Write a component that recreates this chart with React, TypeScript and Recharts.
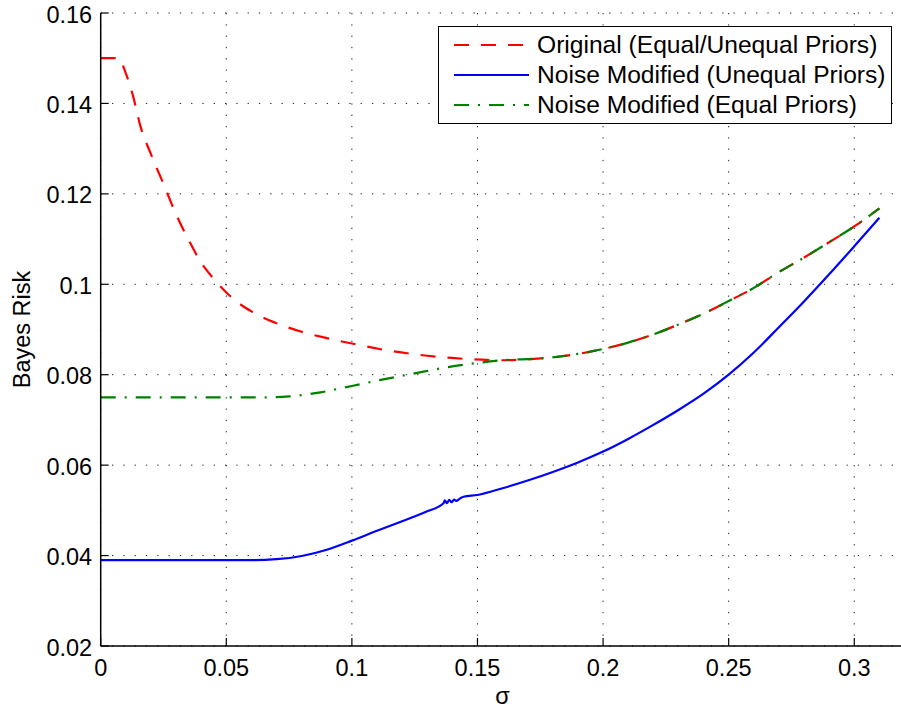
import React from "react";
import { LineChart, Line, XAxis, YAxis, CartesianGrid, Legend, Label } from "recharts";

// sigma / Bayes risk readings
const originalX = [0, 0.0075, 0.0095, 0.013, 0.0157, 0.02, 0.025, 0.03, 0.035, 0.04, 0.045, 0.05, 0.055, 0.06, 0.07, 0.08, 0.09, 0.1, 0.115, 0.13, 0.145, 0.16, 0.175, 0.19, 0.2, 0.21, 0.22, 0.23, 0.24, 0.25, 0.26, 0.27, 0.28, 0.29, 0.3, 0.31];
const originalY = [0.15, 0.15, 0.1474, 0.1414, 0.1352, 0.1288, 0.1222, 0.1155, 0.1098, 0.1048, 0.1012, 0.0982, 0.0958, 0.0940, 0.0914, 0.0895, 0.0881, 0.0869, 0.0853, 0.0842, 0.0835, 0.0832, 0.0836, 0.0846, 0.0857, 0.0871, 0.0889, 0.0911, 0.0935, 0.0963, 0.0992, 0.1027, 0.1059, 0.1093, 0.1128, 0.1168];

const unequalX = [0, 0.06, 0.07, 0.08, 0.09, 0.1, 0.11, 0.12, 0.13, 0.1364, 0.137, 0.1378, 0.1388, 0.1397, 0.1407, 0.1415, 0.143, 0.1444, 0.15, 0.16, 0.17, 0.18, 0.19, 0.2, 0.21, 0.22, 0.23, 0.24, 0.25, 0.26, 0.27, 0.28, 0.29, 0.3, 0.31];
const unequalY = [0.039, 0.039, 0.0392, 0.0399, 0.0413, 0.0433, 0.0455, 0.0476, 0.0498, 0.0515, 0.0522, 0.0516, 0.0523, 0.0518, 0.0524, 0.0521, 0.0526, 0.0530, 0.0534, 0.0549, 0.0566, 0.0585, 0.0606, 0.0630, 0.0658, 0.0689, 0.0722, 0.0758, 0.0800, 0.0849, 0.0905, 0.0962, 0.1022, 0.1084, 0.1147];

const equalX = [0, 0.05, 0.065, 0.075, 0.0875, 0.0965, 0.1, 0.111, 0.125, 0.1375, 0.15, 0.16, 0.175, 0.19, 0.2, 0.21, 0.22, 0.23, 0.24, 0.25, 0.26, 0.27, 0.28, 0.29, 0.3, 0.31];
const equalY = [0.075, 0.075, 0.075, 0.0752, 0.0761, 0.0771, 0.0775, 0.0788, 0.0803, 0.0816, 0.0826, 0.0832, 0.0836, 0.0846, 0.0857, 0.0871, 0.0889, 0.0911, 0.0935, 0.0963, 0.0992, 0.1027, 0.1059, 0.1093, 0.1128, 0.1168];

const xTicks = [0, 0.05, 0.1, 0.15, 0.2, 0.25, 0.3];
const yTicks = [0.02, 0.04, 0.06, 0.08, 0.1, 0.12, 0.14, 0.16];

const FONT = '"Liberation Sans", Arial, Helvetica, sans-serif';

const toPoints = (xs: number[], ys: number[]) => xs.map((x, i) => ({ x, y: ys[i] }));

const series = [
	{ name: "Original (Equal/Unequal Priors)", color: "#ff0000", dash: "15 12", data: toPoints(originalX, originalY) },
	{ name: "Noise Modified (Unequal Priors)", color: "#0000ff", dash: undefined, data: toPoints(unequalX, unequalY) },
	{ name: "Noise Modified (Equal Priors)", color: "#008000", dash: "15 9 2 9", data: toPoints(equalX, equalY) },
];

const BottomTick = (props: any) => {
	const { x, y, payload } = props;
	return (
		<g>
			<line x1={x} x2={x} y1={y} y2={y - 8} stroke="#000" strokeWidth={1.2} />
			<text x={x} y={y + 30} textAnchor="middle" fontSize={23.5} fontFamily={FONT} fill="#000">{String(payload.value)}</text>
		</g>
	);
};

const LeftTick = (props: any) => {
	const { x, y, payload } = props;
	return (
		<g>
			<line x1={x} x2={x + 8} y1={y} y2={y} stroke="#000" strokeWidth={1.2} />
			<text x={x - 8.5} y={y + 9.5} textAnchor="end" fontSize={23.5} fontFamily={FONT} fill="#000">{String(payload.value)}</text>
		</g>
	);
};

const TopTick = (props: any) => {
	const { x, y } = props;
	return <line x1={x} x2={x} y1={y} y2={y + 8} stroke="#000" strokeWidth={1.2} />;
};

const RightTick = (props: any) => {
	const { x, y } = props;
	return <line x1={x} x2={x - 8} y1={y} y2={y} stroke="#000" strokeWidth={1.2} />;
};

const LegendBox = () => (
	<div style={{ width: 452, height: 96, border: "1.3px solid #000", background: "#fff", boxSizing: "content-box", position: "relative", fontFamily: FONT }}>
		{series.map((s, i) => (
			<div key={s.name} style={{ position: "absolute", left: 0, top: 18.3 + i * 30 - 15, height: 30, display: "flex", alignItems: "center" }}>
				<svg width={98} height={30} style={{ display: "block" }}>
					<line x1={15} x2={90} y1={15} y2={15} stroke={s.color} strokeWidth={2.2} strokeDasharray={s.dash} />
				</svg>
				<span style={{ fontSize: 24.6, color: "#000", whiteSpace: "nowrap", lineHeight: "30px" }}>{s.name}</span>
			</div>
		))}
	</div>
);

export default function App() {
	return (
		<div style={{ position: "fixed", left: 0, top: 0, width: 901, height: 709, overflow: "hidden", background: "#fff" }}>
			<LineChart width={920} height={709} margin={{ top: 13, right: 15.5, bottom: 0, left: 0 }}>
				<CartesianGrid stroke="#222" strokeDasharray="1.3 10" strokeWidth={1} horizontalValues={yTicks} verticalValues={xTicks} />
				<XAxis dataKey="x" type="number" domain={[0, 0.32]} ticks={xTicks} height={63} allowDataOverflow
					tickSize={0} tickMargin={0} tick={BottomTick} axisLine={{ stroke: "#000", strokeWidth: 1.5 }}>
					<Label content={() => (
						<text x={502.6} y={704} textAnchor="middle" fontSize={23.5} fontFamily={FONT} fill="#000">σ</text>
					)} />
				</XAxis>
				<XAxis xAxisId="top" orientation="top" type="number" domain={[0, 0.32]} ticks={xTicks} height={0} allowDataOverflow
					tickSize={0} tickMargin={0} tick={TopTick} axisLine={{ stroke: "#000", strokeWidth: 1.5 }} />
				<YAxis type="number" domain={[0.02, 0.16]} ticks={yTicks} width={100.7} allowDataOverflow
					tickSize={0} tickMargin={0} tick={LeftTick} axisLine={{ stroke: "#000", strokeWidth: 1.5 }}>
					<Label content={() => (
						<text x={30} y={329.5} transform="rotate(-90 30 329.5)" textAnchor="middle" fontSize={23.5} fontFamily={FONT} fill="#000">Bayes Risk</text>
					)} />
				</YAxis>
				<YAxis yAxisId="right" orientation="right" type="number" domain={[0.02, 0.16]} ticks={yTicks} width={0} allowDataOverflow
					tickSize={0} tickMargin={0} tick={RightTick} axisLine={{ stroke: "#000", strokeWidth: 1.5 }} />
				{series.map(s => (
					<Line key={s.name} data={s.data} dataKey="y" type="monotone" stroke={s.color} strokeWidth={2.2}
						strokeDasharray={s.dash} dot={false} activeDot={false} isAnimationActive={false} />
				))}
				<Legend layout="horizontal" verticalAlign="middle" align="center" content={LegendBox}
					wrapperStyle={{ left: 438, top: 25.7, width: "auto" }} />
			</LineChart>
		</div>
	);
}
